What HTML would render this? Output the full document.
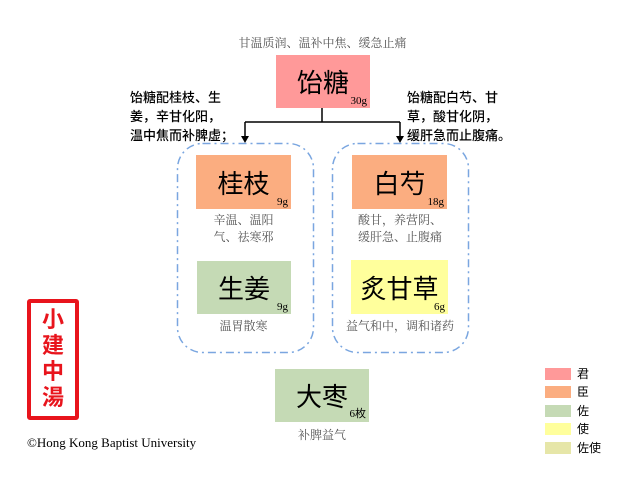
<!DOCTYPE html>
<html><head><meta charset="utf-8"><style>
body{margin:0;width:640px;height:480px;background:#fff;position:relative;overflow:hidden;font-family:"Liberation Serif","Noto Serif CJK SC",serif}
.a{position:absolute}
.box{position:absolute;display:flex;align-items:center;justify-content:center;font-family:"Liberation Sans","Noto Sans CJK SC",sans-serif;font-size:26px;color:#000}
.box span{position:absolute;right:3px;bottom:1px;font-family:"Liberation Serif",serif;font-size:11px}
.d{position:absolute;font-family:"Liberation Serif","Noto Serif CJK SC",serif;font-size:12px;color:#555;text-align:center;line-height:17px}
.n{position:absolute;font-family:"Liberation Sans","Noto Sans CJK SC",sans-serif;font-size:13px;color:#000;line-height:19px;font-weight:500}
.sw{position:absolute;left:545px;width:26px;height:12px}
.lb{position:absolute;left:577px;font-family:"Liberation Sans","Noto Sans CJK SC",sans-serif;font-size:12px;line-height:14px}
</style></head><body>
<div class="d" style="left:200px;top:35px;width:245px">甘温质润、温补中焦、缓急止痛</div>
<div class="box" style="left:276px;top:55px;width:94px;height:53px;background:#ff9999">饴糖<span>30g</span></div>
<svg class="a" style="left:0;top:0" width="640" height="480">
<path d="M322 108V122M245 122H400M245 122V137M400 122V137" stroke="#000" stroke-width="1.5" fill="none"/>
<path d="M241 136L245 143L249 136Z M396 136L400 143L404 136Z" fill="#000"/>
<rect x="177.5" y="143.5" width="136" height="209" rx="25" fill="none" stroke="#7aa6e0" stroke-width="1.5" stroke-dasharray="8 4 2 4"/>
<rect x="332.5" y="143.5" width="136" height="209" rx="25" fill="none" stroke="#7aa6e0" stroke-width="1.5" stroke-dasharray="8 4 2 4"/>
</svg>
<div class="n" style="left:130px;top:88px">饴糖配桂枝、生<br>姜，辛甘化阳，<br>温中焦而补脾虚；</div>
<div class="n" style="left:407px;top:88px">饴糖配白芍、甘<br>草，酸甘化阴，<br>缓肝急而止腹痛。</div>
<div class="box" style="left:196px;top:155px;width:95px;height:54px;background:#fbad80">桂枝<span>9g</span></div>
<div class="d" style="left:196px;top:212px;width:95px">辛温、温阳<br>气、祛寒邪</div>
<div class="box" style="left:197px;top:261px;width:94px;height:53px;background:#c5dab5">生姜<span>9g</span></div>
<div class="d" style="left:196px;top:318px;width:95px">温胃散寒</div>
<div class="box" style="left:352px;top:155px;width:95px;height:54px;background:#fbad80">白芍<span>18g</span></div>
<div class="d" style="left:345px;top:212px;width:110px">酸甘，养营阴、<br>缓肝急、止腹痛</div>
<div class="box" style="left:351px;top:260px;width:97px;height:54px;background:#ffff9c">炙甘草<span>6g</span></div>
<div class="d" style="left:335px;top:318px;width:130px">益气和中，调和诸药</div>
<div class="box" style="left:275px;top:369px;width:94px;height:53px;background:#c5dab5">大枣<span>6枚</span></div>
<div class="d" style="left:272px;top:427px;width:100px">补脾益气</div>
<div class="a" style="left:27px;top:299px;width:44px;height:111px;border:4px solid #e8141c;border-radius:3px;color:#e8141c;font-family:'Noto Sans CJK SC',sans-serif;font-weight:bold;font-size:22px;line-height:26px;padding-top:2px;text-align:center">小<br>建<br>中<br>湯</div>
<div class="a" style="left:27px;top:435px;font-size:13px;color:#000">©Hong Kong Baptist University</div>
<div class="sw" style="top:368px;background:#ff9999"></div><div class="lb" style="top:367px">君</div>
<div class="sw" style="top:386px;background:#fbad80"></div><div class="lb" style="top:385px">臣</div>
<div class="sw" style="top:405px;background:#c5dab5"></div><div class="lb" style="top:404px">佐</div>
<div class="sw" style="top:423px;background:#ffff9c"></div><div class="lb" style="top:422px">使</div>
<div class="sw" style="top:442px;background:#e6e6a8"></div><div class="lb" style="top:441px">佐使</div>
</body></html>
